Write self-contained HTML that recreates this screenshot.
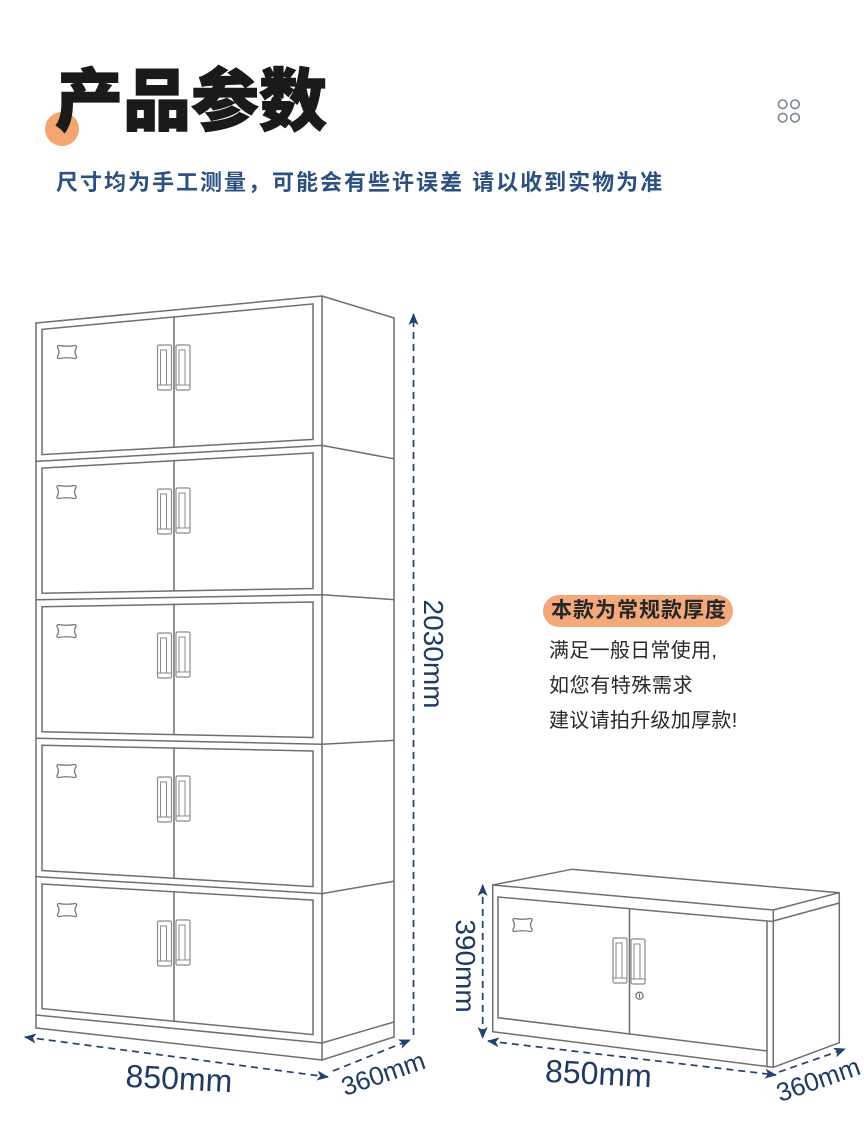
<!DOCTYPE html>
<html><head><meta charset="utf-8"><style>
html,body{margin:0;padding:0;background:#fff;}
body{width:864px;height:1148px;position:relative;overflow:hidden;}
.t{position:absolute;white-space:nowrap;font-family:"Liberation Sans","Noto Sans CJK SC",sans-serif;}
</style></head><body>
<svg width="864" height="1148" viewBox="0 0 864 1148" style="position:absolute;left:0;top:0" xmlns="http://www.w3.org/2000/svg">
<defs>
<marker id="ah" viewBox="0 0 12 10" refX="11" refY="5" markerWidth="12" markerHeight="10" markerUnits="userSpaceOnUse" orient="auto-start-reverse">
<path d="M0,0 L12,5 L0,10 L3,5 z" fill="#23416d"/>
</marker>
<g id="hl">
<rect x="0" y="0" width="14" height="45" rx="1.5" fill="#fff" stroke="#8a8a8a" stroke-width="1.2"/>
<rect x="3" y="5" width="6" height="35" fill="none" stroke="#8a8a8a" stroke-width="1"/>
<line x1="0" y1="40" x2="14" y2="40" stroke="#8a8a8a" stroke-width="1"/>
</g>
<g id="hr">
<rect x="0" y="0" width="14" height="45" rx="1.5" fill="#fff" stroke="#8a8a8a" stroke-width="1.2"/>
<rect x="3" y="5" width="6" height="35" fill="none" stroke="#8a8a8a" stroke-width="1"/>
<line x1="0" y1="40" x2="14" y2="40" stroke="#8a8a8a" stroke-width="1"/>
</g>
<path id="lk" d="M2.5,1.5 Q10.5,3 18.5,1.5 Q20.5,1.5 20,3.5 Q17,8 20,12.5 Q20.5,14.5 18.5,14.5 Q10.5,13 2.5,14.5 Q0.5,14.5 1,12.5 Q4,8 1,3.5 Q0.5,1.5 2.5,1.5 z" fill="none" stroke="#7a7a7a" stroke-width="1.3" stroke-linejoin="round"/>
</defs>

<!-- title circle -->
<circle cx="62" cy="129" r="17" fill="#f5a56e"/>

<!-- icon -->
<g fill="none" stroke="#7b8696" stroke-width="1.6">
<circle cx="782.7" cy="104.3" r="4.3"/><circle cx="795" cy="104.3" r="4.3"/>
<circle cx="782.7" cy="117.7" r="4.3"/><circle cx="795" cy="117.7" r="4.3"/>
</g>

<!-- tall cabinet -->
<g fill="none" stroke="#6f6f6f" stroke-width="1.5" stroke-linecap="round">
<line x1="36" y1="323" x2="36" y2="1028"/>
<line x1="322" y1="296" x2="322" y2="1060"/>
<line x1="394" y1="318" x2="394" y2="1037"/>
<polyline points="36,323 322,296 394,318"/>
<polyline points="36,461.4 322,445.4 394,458.8"/>
<polyline points="36,599.8 322,594.8 394,599.6"/>
<polyline points="36,738.2 322,744.2 394,740.4"/>
<polyline points="36,876.6 322,893.6 394,881.2"/>
<polyline points="36,1015 322,1043 394,1022"/>
<polyline points="36,1028 322,1060 394,1037"/>
<polygon points="42,329.4 313,303.9 313,439.4 42,454.6"/>
<line x1="174" y1="317" x2="174" y2="447.2"/>
<polygon points="42,468.1 313,452.9 313,588.5 42,593.2"/>
<line x1="174" y1="460.7" x2="174" y2="590.9"/>
<polygon points="42,606.7 313,602 313,737.5 42,731.8"/>
<line x1="174" y1="604.4" x2="174" y2="734.6"/>
<polygon points="42,745.3 313,751 313,886.6 42,870.5"/>
<line x1="174" y1="748.1" x2="174" y2="878.3"/>
<polygon points="42,884 313,900.1 313,1034.6 42,1008.6"/>
<line x1="174" y1="891.8" x2="174" y2="1021.5"/>
</g>
<use href="#hl" x="157.5" y="345"/><use href="#hr" x="176" y="345"/>
<use href="#hl" x="157.5" y="489"/><use href="#hr" x="176" y="488"/>
<use href="#hl" x="157.5" y="633"/><use href="#hr" x="176" y="632"/>
<use href="#hl" x="157.5" y="777"/><use href="#hr" x="176" y="776"/>
<use href="#hl" x="157.5" y="921"/><use href="#hr" x="176" y="920"/>
<use href="#lk" x="56.5" y="344"/>
<use href="#lk" x="56" y="484"/>
<use href="#lk" x="56" y="623"/>
<use href="#lk" x="56" y="763"/>
<use href="#lk" x="56.5" y="902"/>

<!-- small cabinet -->
<g fill="none" stroke="#6f6f6f" stroke-width="1.5" stroke-linecap="round" stroke-linejoin="round">
<polygon points="492.7,885 571.7,869.3 839.3,892.7 773.3,910"/>
<line x1="492.7" y1="885" x2="492.7" y2="1031.7"/>
<line x1="773.3" y1="910" x2="773.3" y2="1067.3"/>
<line x1="492.7" y1="1031.7" x2="773.3" y2="1067.3"/>
<line x1="839.3" y1="892.7" x2="839.3" y2="1042.7"/>
<line x1="773.3" y1="1067.3" x2="839.3" y2="1042.7"/>
<line x1="773.3" y1="921" x2="839.3" y2="903"/>
<line x1="498" y1="897" x2="773.3" y2="921.5"/>
<line x1="498" y1="897" x2="498" y2="1017.7"/>
<line x1="767" y1="921" x2="767" y2="1066.5"/>
<line x1="498" y1="1017.7" x2="767" y2="1051"/>
<line x1="629.5" y1="908.7" x2="629.5" y2="1034"/>
<circle cx="639.5" cy="995.7" r="3.6" stroke-width="1.2"/>
<line x1="639.5" y1="994" x2="639.5" y2="997.5" stroke-width="1.2"/>
</g>
<use href="#hl" x="613" y="938"/><use href="#hr" x="631" y="939"/>
<use href="#lk" x="512" y="917"/>

<!-- dimension arrows -->
<g fill="none" stroke="#23416d" stroke-width="1.7" stroke-dasharray="7 5">
<line x1="413.5" y1="1035" x2="413.5" y2="314" marker-end="url(#ah)"/>
<line x1="25" y1="1037" x2="328" y2="1077" marker-start="url(#ah)" marker-end="url(#ah)"/>
<line x1="333" y1="1071" x2="410" y2="1040" marker-end="url(#ah)"/>
<line x1="482.7" y1="885" x2="482.7" y2="1038" marker-start="url(#ah)" marker-end="url(#ah)"/>
<line x1="488" y1="1041" x2="776" y2="1075" marker-start="url(#ah)" marker-end="url(#ah)"/>
<line x1="779" y1="1072" x2="845" y2="1049" marker-end="url(#ah)"/>
</g>

<g fill="#1f3b64" font-family="Liberation Sans, sans-serif" text-anchor="middle">
<text transform="translate(434,654) rotate(90)" x="0" y="10" font-size="28">2030mm</text>
<text transform="translate(179,1078) rotate(3)" x="0" y="11.5" font-size="32">850mm</text>
<text transform="translate(383,1073) rotate(-19)" x="0" y="9.5" font-size="26">360mm</text>
<text transform="translate(466,966) rotate(90)" x="0" y="10" font-size="28">390mm</text>
<text transform="translate(598.5,1073) rotate(3)" x="0" y="11.5" font-size="32">850mm</text>
<text transform="translate(818,1079) rotate(-19)" x="0" y="9.5" font-size="26">360mm</text>
</g>
</svg>

<div class="t" style="left:55px;top:68px;font-size:68px;line-height:68px;font-weight:900;color:#1a1a1a;-webkit-text-stroke:1.2px #1a1a1a;">产品参数</div>
<div class="t" style="left:56px;top:172px;font-size:22px;line-height:22px;font-weight:700;color:#2d5080;letter-spacing:2px;">尺寸均为手工测量，可能会有些许误差 请以收到实物为准</div>

<div style="position:absolute;left:543px;top:595px;width:190px;height:32px;border-radius:16px;background:#f3a97c;"></div>
<div class="t" style="left:551px;top:600px;font-size:21px;line-height:22px;font-weight:700;color:#262626;letter-spacing:1px;">本款为常规款厚度</div>
<div class="t" style="left:549px;top:640px;font-size:20px;line-height:22px;color:#2a2a2a;letter-spacing:0.3px;">满足一般日常使用,</div>
<div class="t" style="left:549px;top:675px;font-size:20px;line-height:22px;color:#2a2a2a;letter-spacing:0.6px;">如您有特殊需求</div>
<div class="t" style="left:549px;top:710px;font-size:20px;line-height:22px;color:#2a2a2a;letter-spacing:0.3px;">建议请拍升级加厚款!</div>
</body></html>
